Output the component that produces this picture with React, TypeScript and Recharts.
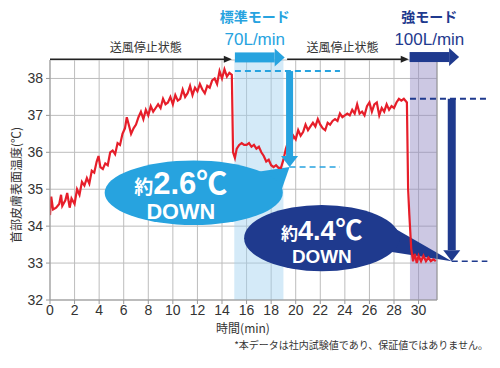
import React from 'react';
import {
  ComposedChart, Line, XAxis, YAxis, CartesianGrid,
  ReferenceArea, ReferenceLine,
} from 'recharts';

// ─── Data ────────────────────────────────────────────────────────────────────
const TIMES = [
  0, 0.1, 0.25, 0.5, 0.75, 0.9, 1.0, 1.25, 1.4, 1.6, 1.75, 2.0, 2.2, 2.4, 2.6, 2.8,
  3.0, 3.2, 3.4, 3.6, 3.8, 3.95, 4.1, 4.3, 4.5, 4.7, 4.9, 5.1, 5.3, 5.5, 5.7, 5.9,
  6.1, 6.25, 6.45, 6.6, 6.8, 7.0, 7.2, 7.4, 7.6, 7.8, 8.0, 8.2, 8.4, 8.6, 8.8, 9.0,
  9.2, 9.4, 9.6, 9.8, 10.0, 10.2, 10.4, 10.6, 10.8, 11.0, 11.2, 11.4, 11.6, 11.8,
  12.0, 12.2, 12.4, 12.6, 12.8, 13.0, 13.2, 13.4, 13.6, 13.8, 14.0, 14.2, 14.4,
  14.6, 14.8, 14.9, 15.05, 15.2, 15.4, 15.6, 15.8, 16.0, 16.2, 16.4, 16.6, 16.8,
  17.0, 17.2, 17.4, 17.6, 17.8, 18.0, 18.2, 18.4, 18.6, 18.8, 19.0, 19.2, 19.4,
  19.6, 19.8, 20.0, 20.2, 20.4, 20.6, 20.8, 21.0, 21.2, 21.4, 21.6, 21.8, 22.0,
  22.2, 22.4, 22.6, 22.8, 23.0, 23.2, 23.4, 23.6, 23.8, 24.0, 24.2, 24.4, 24.6,
  24.8, 25.0, 25.2, 25.4, 25.6, 25.8, 26.0, 26.2, 26.4, 26.6, 26.8, 27.0, 27.2,
  27.4, 27.6, 27.8, 28.0, 28.2, 28.4, 28.6, 28.8, 29.05, 29.15, 29.25, 29.4,
  29.55, 29.7, 29.85, 30.0, 30.2, 30.4, 30.6, 30.8, 31.0, 31.2, 31.4,
];
const TEMPS = [
  34.3, 34.8, 34.45, 34.5, 34.6, 34.85, 34.55, 34.7, 34.9, 34.5, 34.75, 34.6, 35.0, 34.85, 35.2, 35.1,
  35.3, 35.15, 35.5, 35.45, 35.75, 35.9, 35.6, 35.55, 35.7, 35.65, 36.0, 36.05, 35.95, 36.25, 36.2, 36.5,
  36.65, 36.95, 36.7, 36.5, 36.65, 36.75, 36.95, 37.1, 36.9, 37.15, 37.0, 37.25, 37.1, 37.2, 37.3, 37.2,
  37.45, 37.3, 37.35, 37.5, 37.3, 37.55, 37.4, 37.45, 37.7, 37.5, 37.6, 37.8, 37.55, 37.75,
  37.65, 37.85, 37.7, 37.6, 37.8, 37.75, 37.95, 38.0, 37.85, 38.2, 38.0, 38.25, 38.05,
  38.15, 38.1, 36.0, 35.85, 36.1, 36.2, 36.25, 36.2, 36.2, 36.25, 36.15, 36.2, 36.1,
  36.15, 36.0, 35.9, 35.75, 35.8, 35.65, 35.6, 35.65, 35.58, 35.58, 35.8, 36.1, 36.3,
  36.2, 36.45, 36.35, 36.6, 36.45, 36.55, 36.75, 36.6, 36.7, 36.8, 36.7, 36.9, 36.75,
  36.65, 36.6, 36.8, 36.75, 36.85, 36.9, 36.85, 37.05, 36.95, 37.0, 37.05, 37.0, 37.15,
  37.05, 37.3, 37.05, 37.1, 37.0, 37.25, 37.35, 37.1, 37.3, 37.35, 37.0, 37.2, 37.1,
  37.3, 37.15, 37.25, 37.2, 37.35, 37.45, 37.4, 37.45, 37.35, 35.0, 34.3, 33.4,
  33.05, 33.25, 33.0, 33.2, 33.05, 33.2, 33.05, 33.15, 33.05, 33.1, 33.05,
];
const X_TICKS = [0, 2, 4, 6, 8, 10, 12, 14, 16, 18, 20, 22, 24, 26, 28, 30];
const Y_TICKS = [32, 33, 34, 35, 36, 37, 38];

const chartData = TIMES.map((t, i) => ({ t, v: TEMPS[i] }));

// modes / annotations (data units)
const STOP_ARROWS = [
  { from: 0, to: 14.8, labelAt: 7.8, text: '送風停止状態' },
  { from: 19.3, to: 29.2, labelAt: 23.8, text: '送風停止状態' },
];
const MODE_STD = { from: 15.05, to: 19.1, title: '標準モード', flow: '70L/min' };
const MODE_STRONG = { from: 29.27, to: 33.3, title: '強モード', flow: '100L/min' };
const DROP_STD = { at: 19.5, top: 38.2, bottom: 35.6, dashTo: 23.6 };
const DROP_STRONG = { at: 32.7, top: 37.45, bottom: 33.05, dashFrom: 29.3, dashTo: 35.6 };
const CALLOUT_STD = { x1: 4.45, x2: 18.95, y1: 34.03, y2: 35.78, value: '2.6℃' };
const CALLOUT_STRONG = { x1: 15.8, x2: 28.45, y1: 32.78, y2: 34.57, value: '4.4℃' };

const LIGHT = '#27a3df';
const NAVY = '#1f3a8e';
const RED = '#e61e2a';
const JP = "'Noto Sans CJK JP', sans-serif";
const LAT = "'Liberation Sans', Arial, 'Noto Sans CJK JP', sans-serif";

// ─── Shapes ──────────────────────────────────────────────────────────────────
const thinArrow = (text: string, labelX: number) => (p: any) => {
  const { x1, y1, x2 } = p;
  const kx = (x2 - x1);
  return (
    <g>
      <line x1={x1} y1={y1} x2={x2 - 6} y2={y1} stroke="#222" strokeWidth={1.3} />
      <polygon points={`${x2},${y1} ${x2 - 8},${y1 - 3.5} ${x2 - 8},${y1 + 3.5}`} fill="#222" />
      <text x={x1 + kx * labelX} y={y1 - 7} textAnchor="middle" fontSize={12} fill="#333" fontFamily={JP}>
        {text}
      </text>
    </g>
  );
};

const modeArrow = (color: string, title: string, flow: string) => (p: any) => {
  const { x1, y1, x2 } = p;
  const head = 10;
  const bodyEnd = x2 - head;
  const cx = (x1 + bodyEnd) / 2;
  return (
    <g>
      <rect x={x1} y={y1 - 5} width={bodyEnd - x1} height={10} fill={color} />
      <polygon points={`${x2},${y1} ${bodyEnd},${y1 - 9} ${bodyEnd},${y1 + 9}`} fill={color} />
      <text x={cx} y={y1 - 35} textAnchor="middle" fontSize={14} fontWeight="bold" fill={color} fontFamily={JP}>
        {title}
      </text>
      <text x={cx} y={y1 - 12} textAnchor="middle" fontSize={17} fill={color} fontFamily={LAT}>
        {flow}
      </text>
    </g>
  );
};

const dropArrow = (color: string, shaft: number) => (p: any) => {
  const { x1, y1, y2 } = p;
  const top = Math.min(y1, y2);
  const tip = Math.max(y1, y2);
  const headLen = 11;
  return (
    <g>
      <rect x={x1 - shaft / 2} y={top} width={shaft} height={tip - top - headLen} fill={color} />
      <polygon points={`${x1},${tip} ${x1 - 8.5},${tip - headLen} ${x1 + 8.5},${tip - headLen}`} fill={color} />
    </g>
  );
};

type Callout = { x1: number; x2: number; y1: number; y2: number; value: string };

const calloutShape = (c: Callout, tipT: number, tipV: number, color: string,
  a1: number, a2: number, big: number, small: number, textShift: number, gap: number) => (p: any) => {
  const { x, y, width, height } = p;
  const kx = width / (c.x2 - c.x1);
  const ky = height / (c.y2 - c.y1);
  const rx = width / 2;
  const ry = height / 2;
  const cx = x + rx;
  const cy = y + ry;
  const tx = x + (tipT - c.x1) * kx;
  const ty = y + (c.y2 - tipV) * ky;
  const pt = (deg: number) =>
    `${cx + rx * 0.97 * Math.cos((deg * Math.PI) / 180)},${cy + ry * 0.97 * Math.sin((deg * Math.PI) / 180)}`;
  const textX = cx + textShift;
  const base = cy + big * 0.05;
  return (
    <g>
      <polygon points={`${pt(a1)} ${tx},${ty} ${pt(a2)} ${cx},${cy}`} fill={color} />
      <ellipse cx={cx} cy={cy} rx={rx} ry={ry} fill={color} />
      <text x={textX} y={base} textAnchor="middle" fill="#fff" fontWeight="bold" fontFamily={LAT}>
        <tspan fontSize={small} fontFamily={JP}>約</tspan>
        <tspan fontSize={big}>{c.value}</tspan>
      </text>
      <text x={textX} y={base + gap} textAnchor="middle" fill="#fff" fontWeight="bold"
        fontSize={big * 0.7} fontFamily={LAT}>
        DOWN
      </text>
    </g>
  );
};

// ─── Chart ───────────────────────────────────────────────────────────────────
export default function App() {
  return (
    <div style={{ position: 'absolute', left: 0, top: 0, width: 500, height: 368, background: '#fff' }}>
      <ComposedChart
        width={500}
        height={368}
        data={chartData}
        margin={{ top: 60, right: 63, bottom: 38, left: 0 }}
      >
        <CartesianGrid stroke="#bdbdbd" strokeWidth={1} />
        <XAxis
          type="number"
          dataKey="t"
          domain={[0, 31.5]}
          ticks={X_TICKS}
          allowDataOverflow
          height={30}
          tickSize={4}
          tickMargin={1}
          stroke="#999"
          tick={{ fontSize: 14, fill: '#333', fontFamily: LAT }}
        />
        <YAxis
          type="number"
          domain={[32, 38.5]}
          ticks={Y_TICKS}
          allowDataOverflow
          width={50}
          tickSize={4}
          tickMargin={3}
          stroke="#999"
          tick={{ fontSize: 14, fill: '#333', fontFamily: LAT }}
        />
        <ReferenceLine x={31.5} stroke="#999" />

        <ReferenceArea x1={15} x2={19} y1={32} y2={38.5} fill="#9fd0f0" fillOpacity={0.45} stroke="none" />
        <ReferenceArea x1={29.3} x2={31.5} y1={32} y2={38.5} fill="#8f86c2" fillOpacity={0.45} stroke="none" />

        <Line
          type="linear"
          dataKey="v"
          stroke={RED}
          strokeWidth={2.2}
          dot={false}
          isAnimationActive={false}
        />

        {/* dashed guide lines */}
        <ReferenceLine
          segment={[{ x: MODE_STD.from, y: DROP_STD.top }, { x: DROP_STD.dashTo, y: DROP_STD.top }]}
          stroke={LIGHT} strokeWidth={2} strokeDasharray="6 4" ifOverflow="visible"
        />
        <ReferenceLine
          segment={[{ x: DROP_STD.at, y: DROP_STD.bottom }, { x: DROP_STD.dashTo, y: DROP_STD.bottom }]}
          stroke={LIGHT} strokeWidth={1.5} strokeDasharray="6 4" ifOverflow="visible"
        />
        <ReferenceLine
          segment={[{ x: DROP_STRONG.dashFrom, y: DROP_STRONG.top }, { x: DROP_STRONG.dashTo, y: DROP_STRONG.top }]}
          stroke={NAVY} strokeWidth={2} strokeDasharray="6 4" ifOverflow="visible"
        />
        <ReferenceLine
          segment={[{ x: DROP_STRONG.at, y: DROP_STRONG.bottom }, { x: DROP_STRONG.dashTo, y: DROP_STRONG.bottom }]}
          stroke={NAVY} strokeWidth={1.5} strokeDasharray="6 4" ifOverflow="visible"
        />

        {/* callouts */}
        <ReferenceArea
          x1={CALLOUT_STD.x1} x2={CALLOUT_STD.x2} y1={CALLOUT_STD.y1} y2={CALLOUT_STD.y2}
          ifOverflow="visible"
          shape={calloutShape(CALLOUT_STD, DROP_STD.at, DROP_STD.bottom, LIGHT, -42, 12, 31, 19, -13, 25)}
        />
        <ReferenceArea
          x1={CALLOUT_STRONG.x1} x2={CALLOUT_STRONG.x2} y1={CALLOUT_STRONG.y1} y2={CALLOUT_STRONG.y2}
          ifOverflow="visible"
          shape={calloutShape(CALLOUT_STRONG, DROP_STRONG.at, DROP_STRONG.bottom, NAVY, -20, 25, 27, 17, 0, 23)}
        />

        {/* drop arrows */}
        <ReferenceLine
          segment={[{ x: DROP_STD.at, y: DROP_STD.top }, { x: DROP_STD.at, y: DROP_STD.bottom }]}
          ifOverflow="visible" shape={dropArrow(LIGHT, 7)}
        />
        <ReferenceLine
          segment={[{ x: DROP_STRONG.at, y: DROP_STRONG.top }, { x: DROP_STRONG.at, y: DROP_STRONG.bottom }]}
          ifOverflow="visible" shape={dropArrow(NAVY, 8)}
        />

        {/* top arrows */}
        {STOP_ARROWS.map((a) => (
          <ReferenceLine
            key={a.from}
            segment={[{ x: a.from, y: 38.52 }, { x: a.to, y: 38.52 }]}
            ifOverflow="visible"
            shape={thinArrow(a.text, (a.labelAt - a.from) / (a.to - a.from))}
          />
        ))}
        <ReferenceLine
          segment={[{ x: MODE_STD.from, y: 38.57 }, { x: MODE_STD.to, y: 38.57 }]}
          ifOverflow="visible" shape={modeArrow(LIGHT, MODE_STD.title, MODE_STD.flow)}
        />
        <ReferenceLine
          segment={[{ x: MODE_STRONG.from, y: 38.58 }, { x: MODE_STRONG.to, y: 38.58 }]}
          ifOverflow="visible" shape={modeArrow(NAVY, MODE_STRONG.title, MODE_STRONG.flow)}
        />
      </ComposedChart>

      {/* axis titles & note */}
      <div style={{
        position: 'absolute', left: 15, top: 185, transform: 'translate(-50%, -50%) rotate(-90deg)',
        whiteSpace: 'nowrap', fontSize: 12, color: '#333', fontFamily: JP,
      }}>
        首部皮膚表面温度(℃)
      </div>
      <div style={{
        position: 'absolute', left: 243, top: 328, transform: 'translate(-50%, -50%)',
        whiteSpace: 'nowrap', fontSize: 12, lineHeight: '14px', color: '#333', fontFamily: JP,
      }}>
        時間(min)
      </div>
      <div style={{
        position: 'absolute', right: 12, top: 344, transform: 'translateY(-50%)',
        whiteSpace: 'nowrap', fontSize: 10, color: '#333', fontFamily: JP,
      }}>
        *本データは社内試験値であり、保証値ではありません。
      </div>
    </div>
  );
}
